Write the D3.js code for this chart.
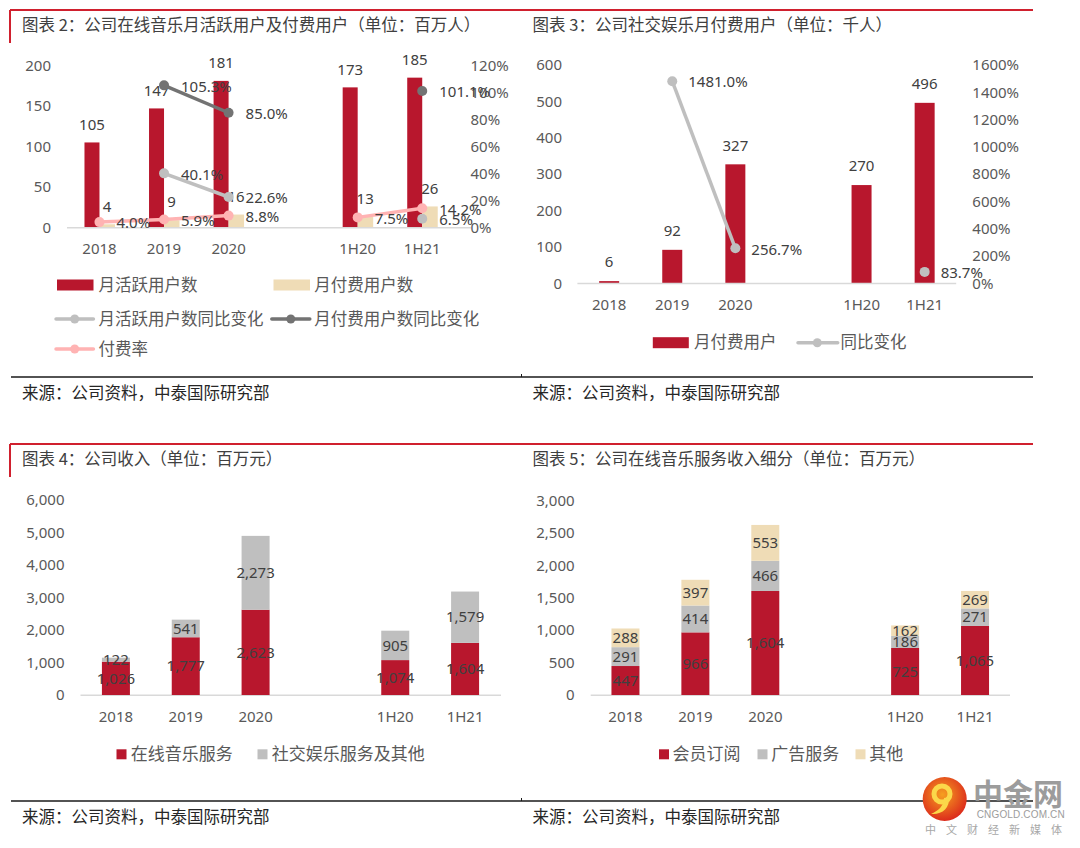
<!DOCTYPE html>
<html><head><meta charset="utf-8">
<script src="https://cdn.jsdelivr.net/npm/d3@7"></script>
<style>
html,body{margin:0;padding:0;background:#fff;}
svg{display:block;}
</style></head><body>
<svg id="c" width="1080" height="848"></svg>
<script>
// ---------- DATA ----------
const categories = ["2018","2019","2020","","1H20","1H21"];
// Chart 2
const mauValues      = [105,147,181,null,173,185];
const paidUserValues = [4,9,16,null,13,26];
const mauYoy         = [null,40.1,22.6,null,null,6.5];
const paidYoy        = [null,105.3,85.0,null,null,101.1];
const payRate        = [4.0,5.9,8.8,null,7.5,14.2];
const c2LeftTicks  = [0,50,100,150,200];
const c2RightTicks = [0,20,40,60,80,100,120];
// Chart 3
const socialPaidValues = [6,92,327,null,270,496];
const socialPaidYoy    = [null,1481.0,256.7,null,null,83.7];
const c3LeftTicks  = [0,100,200,300,400,500,600];
const c3RightTicks = [0,200,400,600,800,1000,1200,1400,1600];
// Chart 4
const musicRevenue  = [1026,1777,2623,null,1074,1604];
const socialRevenue = [122,541,2273,null,905,1579];
const c4Ticks = [0,1000,2000,3000,4000,5000,6000];
// Chart 5
const subscriptionRevenue = [447,966,1604,null,725,1065];
const adRevenue           = [291,414,466,null,186,271];
const otherRevenue        = [288,397,553,null,162,269];
const c5Ticks = [0,500,1000,1500,2000,2500,3000];

// ---------- STYLE ----------
const RED="#b8172d", TAN="#efdcb6", LGRAY="#bfbfbf", DGRAY="#737373", PINK="#ffb3b3", SGRAY="#bfbfbf";
const AX="#595959", TXT="#404040", LEG="#595959";
const NUMF="'Noto Sans','DejaVu Sans',sans-serif";
const CJKF="'Noto Sans CJK SC','Noto Sans',sans-serif";
const svg = d3.select("#c");
const idx = d3.range(categories.length);
const fmtC = d3.format(",");
const fmtP = v => v.toFixed(1) + "%";

function leftAxis(scale, ticks, fmt, x) {
  svg.append("g").attr("transform",`translate(${x},0)`)
    .call(d3.axisLeft(scale).tickValues(ticks).tickFormat(fmt).tickSize(0).tickPadding(0))
    .call(g=>g.select(".domain").remove())
    .attr("font-size",15).attr("font-family",NUMF)
    .selectAll("text").attr("fill",AX);
}
function rightAxis(scale, ticks, fmt, x) {
  svg.append("g").attr("transform",`translate(${x},0)`)
    .call(d3.axisRight(scale).tickValues(ticks).tickFormat(fmt).tickSize(0).tickPadding(0))
    .call(g=>g.select(".domain").remove())
    .attr("font-size",15).attr("font-family",NUMF)
    .selectAll("text").attr("fill",AX);
}
function bottomAxis(scale, y, x0, x1, yBase) {
  svg.append("line").attr("x1",x0).attr("x2",x1).attr("y1",yBase).attr("y2",yBase)
    .attr("stroke","#d9d9d9").attr("stroke-width",1.5);
  svg.append("g").attr("transform",`translate(0,${y})`)
    .call(d3.axisBottom(scale).tickFormat(i=>categories[i]).tickSize(0).tickPadding(0))
    .call(g=>g.select(".domain").remove())
    .attr("font-size",15).attr("font-family",NUMF)
    .selectAll("text").attr("fill",AX).attr("y",0).attr("dy","0.35em");
}
function title(txt, x, y) {
  svg.append("text").attr("x",x).attr("y",y).attr("dy","0.35em")
    .attr("font-family",CJKF).attr("font-size",16.5).attr("fill",TXT).text(txt);
}
function label(txt, x, y, anchor) {
  svg.append("text").attr("x",x).attr("y",y).attr("dy","0.35em").attr("text-anchor",anchor||"middle")
    .attr("font-family",NUMF).attr("font-size",15).attr("fill",TXT).text(txt);
}
function legText(txt, x, y, size) {
  svg.append("text").attr("x",x).attr("y",y).attr("dy","0.35em")
    .attr("font-family",CJKF).attr("font-size",size||16.5).attr("fill",LEG).text(txt);
}
function legLine(x0, x1, cx, y, color) {
  svg.append("line").attr("x1",x0).attr("x2",x1).attr("y1",y).attr("y2",y)
    .attr("stroke",color).attr("stroke-width",3.5).attr("stroke-linecap","round");
  svg.append("circle").attr("cx",cx).attr("cy",y).attr("r",4.5).attr("fill",color);
}
function lineSeries(values, x, y, color, dx) {
  const pts = values.map((v,i)=>({i,v}));
  svg.append("path").datum(pts)
    .attr("d", d3.line().defined(d=>d.v!=null).x(d=>x(d.i)+x.bandwidth()/2).y(d=>y(d.v)))
    .attr("fill","none").attr("stroke",color).attr("stroke-width",3.5);
  svg.append("g").selectAll("circle").data(pts.filter(d=>d.v!=null)).join("circle")
    .attr("cx",d=>x(d.i)+x.bandwidth()/2).attr("cy",d=>y(d.v)).attr("r",5).attr("fill",color);
  return pts.filter(d=>d.v!=null);
}
function lineLabels(pts, x, y, dx) {
  pts.forEach(d=>label(fmtP(d.v), x(d.i)+x.bandwidth()/2+dx, y(d.v)+1, "start"));
}

// ---------- FRAME ----------
svg.append("line").attr("x1",10).attr("x2",1033).attr("y1",10).attr("y2",10).attr("stroke","#d0202e").attr("stroke-width",2);
svg.append("line").attr("x1",10).attr("x2",10).attr("y1",10).attr("y2",43).attr("stroke","#d0202e").attr("stroke-width",2);
svg.append("line").attr("x1",10).attr("x2",1033).attr("y1",444).attr("y2",444).attr("stroke","#d0202e").attr("stroke-width",2);
svg.append("line").attr("x1",10).attr("x2",10).attr("y1",444).attr("y2",477).attr("stroke","#d0202e").attr("stroke-width",2);
[377,801].forEach(yy=>{
  svg.append("line").attr("x1",11).attr("x2",1033).attr("y1",yy).attr("y2",yy).attr("stroke","#1a1a1a").attr("stroke-width",1.5);
  svg.append("line").attr("x1",521.5).attr("x2",521.5).attr("y1",yy-3).attr("y2",yy).attr("stroke","#1a1a1a").attr("stroke-width",1);
});
[[22,393],[532.6,393],[22,817.7],[532.6,817.7]].forEach(p=>{
  svg.append("text").attr("x",p[0]).attr("y",p[1]).attr("dy","0.35em").attr("font-family",CJKF)
    .attr("font-size",16.5).attr("fill","#262626").text("来源：公司资料，中泰国际研究部");
});

// ---------- CHART 2 ----------
title("图表 2：公司在线音乐月活跃用户及付费用户（单位：百万人）", 22, 25);
{
  const x = d3.scaleBand().domain(idx).range([67.2,454.5]);
  const y = d3.scaleLinear().domain([0,200]).range([227.5,65.5]);
  const yR = d3.scaleLinear().domain([0,120]).range([227.5,65.5]);
  leftAxis(y, c2LeftTicks, d=>d, 51);
  rightAxis(yR, c2RightTicks, d=>d+"%", 470.5);
  const bw = 15, c = i=>x(i)+x.bandwidth()/2;
  svg.append("g").selectAll("rect").data(idx.filter(i=>mauValues[i]!=null)).join("rect")
    .attr("x",i=>c(i)-bw).attr("width",bw).attr("y",i=>y(mauValues[i])).attr("height",i=>y(0)-y(mauValues[i])).attr("fill",RED);
  svg.append("g").selectAll("rect").data(idx.filter(i=>paidUserValues[i]!=null)).join("rect")
    .attr("x",i=>c(i)).attr("width",bw+0.5).attr("y",i=>y(paidUserValues[i])).attr("height",i=>y(0)-y(paidUserValues[i])).attr("fill",TAN);
  bottomAxis(x, 248.3, 67, 471, 227.8);
  idx.filter(i=>mauValues[i]!=null).forEach(i=>label(mauValues[i], c(i)-bw/2, y(mauValues[i])-18));
  idx.filter(i=>paidUserValues[i]!=null).forEach(i=>label(paidUserValues[i], c(i)+bw/2, y(paidUserValues[i])-18));
  const p1 = lineSeries(mauYoy, x, yR, LGRAY);
  const p2 = lineSeries(paidYoy, x, yR, DGRAY);
  const p3 = lineSeries(payRate, x, yR, PINK);
  lineLabels(p1, x, yR, 17); lineLabels(p2, x, yR, 17); lineLabels(p3, x, yR, 17);
  // legend
  svg.append("rect").attr("x",57).attr("y",279.5).attr("width",36.5).attr("height",11).attr("fill",RED);
  legText("月活跃用户数", 98.5, 285);
  svg.append("rect").attr("x",273.5).attr("y",279.5).attr("width",36.5).attr("height",11).attr("fill",TAN);
  legText("月付费用户数", 314.3, 285);
  legLine(56,93.4,74.7,319,LGRAY); legText("月活跃用户数同比变化", 98.5, 319);
  legLine(271.8,309.8,290.8,319,DGRAY); legText("月付费用户数同比变化", 314.3, 319);
  legLine(56,93.4,74.7,349,PINK); legText("付费率", 98.5, 349);
}

// ---------- CHART 3 ----------
title("图表 3：公司社交娱乐月付费用户（单位：千人）", 532.6, 25);
{
  const x = d3.scaleBand().domain(idx).range([577.6,956.2]);
  const y = d3.scaleLinear().domain([0,600]).range([283.3,65]);
  const yR = d3.scaleLinear().domain([0,1600]).range([283.3,65]);
  leftAxis(y, c3LeftTicks, d=>d, 562);
  rightAxis(yR, c3RightTicks, d=>d+"%", 972.3);
  const bw = 20, c = i=>x(i)+x.bandwidth()/2;
  svg.append("g").selectAll("rect").data(idx.filter(i=>socialPaidValues[i]!=null)).join("rect")
    .attr("x",i=>c(i)-bw/2).attr("width",bw).attr("y",i=>y(socialPaidValues[i])).attr("height",i=>y(0)-y(socialPaidValues[i])).attr("fill",RED);
  bottomAxis(x, 304.3, 577.4, 956.2, 283.6);
  idx.filter(i=>socialPaidValues[i]!=null).forEach(i=>label(socialPaidValues[i], c(i), y(socialPaidValues[i])-19));
  const p = lineSeries(socialPaidYoy, x, yR, LGRAY);
  lineLabels(p, x, yR, 16);
  svg.append("rect").attr("x",652.8).attr("y",337.2).attr("width",36).attr("height",11).attr("fill",RED);
  legText("月付费用户", 694, 342.7);
  legLine(798,837.7,817.3,342.7,LGRAY); legText("同比变化", 840.6, 342.7);
}

// ---------- stacked helper ----------
function stacked(keys, arrays, colors, xr, yScale, bw) {
  const rows = idx.filter(i=>arrays[0][i]!=null).map(i=>{
    const r = {i}; keys.forEach((k,j)=>r[k]=arrays[j][i]); return r;
  });
  const series = d3.stack().keys(keys)(rows);
  const x = xr;
  series.forEach((s,j)=>{
    svg.append("g").selectAll("rect").data(s).join("rect")
      .attr("x",d=>x(d.data.i)+x.bandwidth()/2-bw/2).attr("width",bw)
      .attr("y",d=>yScale(d[1])).attr("height",d=>yScale(d[0])-yScale(d[1])).attr("fill",colors[j]);
  });
  series.forEach(s=>{
    s.forEach(d=>label(fmtC(d.data[s.key]), x(d.data.i)+x.bandwidth()/2, (yScale(d[0])+yScale(d[1]))/2));
  });
}

// ---------- CHART 4 ----------
title("图表 4：公司收入（单位：百万元）", 22, 459.3);
{
  const x = d3.scaleBand().domain(idx).range([81,500]);
  const y = d3.scaleLinear().domain([0,6000]).range([695,500]);
  leftAxis(y, c4Ticks, fmtC, 64.5);
  bottomAxis(x, 716.7, 80.5, 501, 695.3);
  stacked(["music","social"], [musicRevenue, socialRevenue], [RED, SGRAY], x, y, 28);
  svg.append("rect").attr("x",116.5).attr("y",749.3).attr("width",10).attr("height",10).attr("fill",RED);
  legText("在线音乐服务", 130.8, 754.3, 17);
  svg.append("rect").attr("x",257.5).attr("y",749.3).attr("width",10).attr("height",10).attr("fill",SGRAY);
  legText("社交娱乐服务及其他", 271.8, 754.3, 17);
}

// ---------- CHART 5 ----------
title("图表 5：公司在线音乐服务收入细分（单位：百万元）", 532.6, 459.3);
{
  const x = d3.scaleBand().domain(idx).range([590.5,1010]);
  const y = d3.scaleLinear().domain([0,3000]).range([695,500.5]);
  leftAxis(y, c5Ticks, fmtC, 574.6);
  bottomAxis(x, 716.7, 590.7, 1010, 695.3);
  stacked(["sub","ad","other"], [subscriptionRevenue, adRevenue, otherRevenue], [RED, SGRAY, TAN], x, y, 28);
  svg.append("rect").attr("x",659).attr("y",749.3).attr("width",10).attr("height",10).attr("fill",RED);
  legText("会员订阅", 672.6, 754.3, 17);
  svg.append("rect").attr("x",757.5).attr("y",749.3).attr("width",10).attr("height",10).attr("fill",SGRAY);
  legText("广告服务", 771.3, 754.3, 17);
  svg.append("rect").attr("x",855.5).attr("y",749.3).attr("width",10).attr("height",10).attr("fill",TAN);
  legText("其他", 869.3, 754.3, 17);
}

// ---------- LOGO (watermark) ----------
{
  const defs = svg.append("defs");
  const rg = defs.append("radialGradient").attr("id","lg").attr("cx","45%").attr("cy","40%").attr("r","60%");
  rg.append("stop").attr("offset","0%").attr("stop-color","#f6a020");
  rg.append("stop").attr("offset","100%").attr("stop-color","#dc2c1c");
  const g = svg.append("g");
  g.append("circle").attr("cx",944.7).attr("cy",799).attr("r",22).attr("fill","url(#lg)");
  g.append("circle").attr("cx",942).attr("cy",794).attr("r",8).attr("fill","none").attr("stroke","#fbd84a").attr("stroke-width",5);
  g.append("path").attr("d","M949,797 C950,808 942,815 931,814 C938,811 944,806 944,798 Z").attr("fill","#fbd84a");
  g.append("text").attr("x",973).attr("y",805).attr("font-family",CJKF).attr("font-weight","bold")
    .attr("font-size",30).attr("fill","#9c9c9c").text("中金网");
  g.append("text").attr("x",976.7).attr("y",817.5).attr("font-family","'Liberation Sans',sans-serif")
    .attr("font-size",10).attr("fill","#9c9c9c").attr("textLength",88).text("CNGOLD.COM.CN");
  g.append("text").attr("x",925).attr("y",834).attr("font-family",CJKF)
    .attr("font-size",11).attr("fill","#a8a8a8").attr("letter-spacing",10).text("中文财经新媒体");
}
</script>
</body></html>
